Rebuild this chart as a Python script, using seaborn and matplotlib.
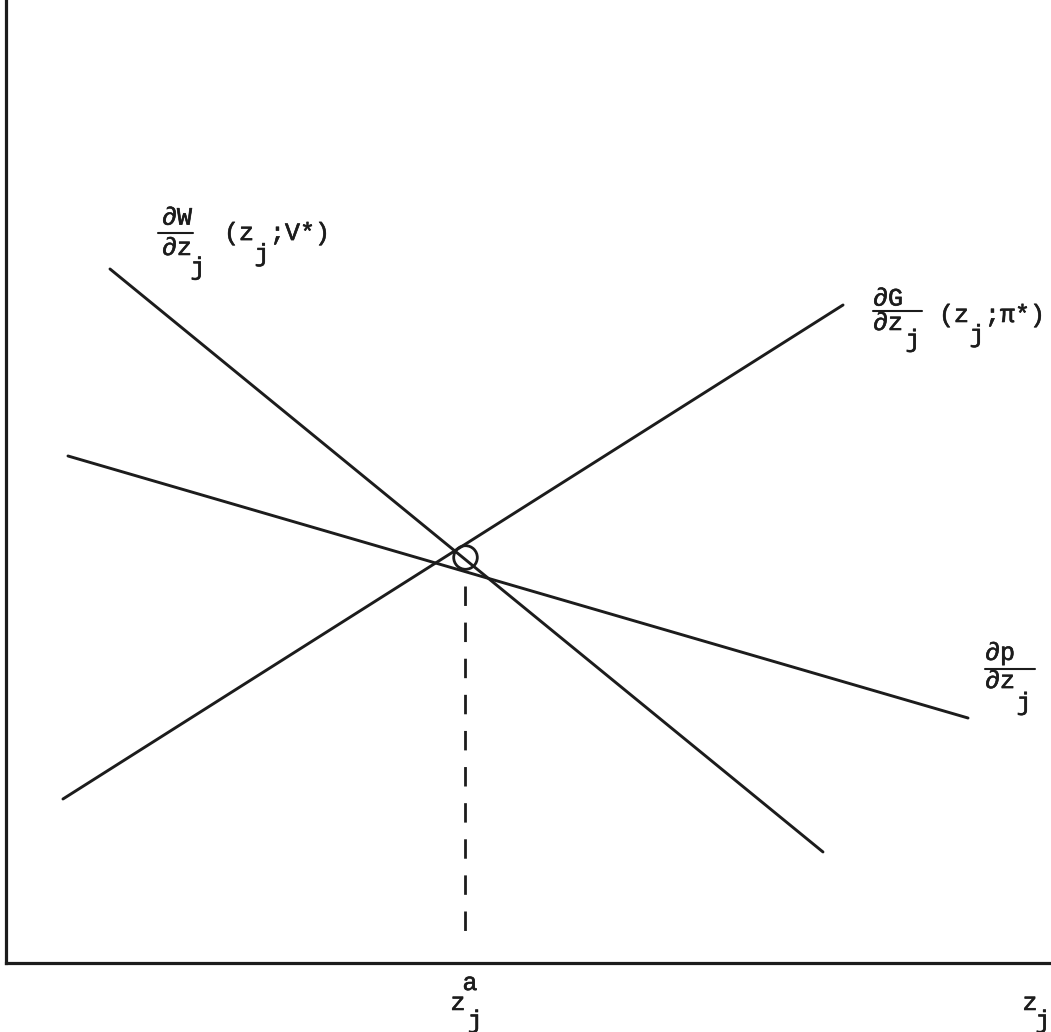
import matplotlib
matplotlib.use("Agg")
import matplotlib.pyplot as plt
import matplotlib.patheffects as pe
import seaborn as sns
import pandas as pd

# Marginal schedules (endpoints of each straight line, in diagram units)
w_x = [0.995, 7.818]
w_y = [7.207, 1.153]
g_x = [0.545, 8.010]
g_y = [1.703, 6.833]
p_x = [0.593, 9.206]
p_y = [5.265, 2.544]

# Equilibrium point z_j^a
eq_x = 4.392
eq_y = 4.216

sns.set_theme(style="white")
plt.rcParams["font.family"] = ["Liberation Mono", "DejaVu Sans Mono"]

INK = "#1c1c1c"
FS = 18

fig = plt.figure(figsize=(10.51, 10.32), dpi=100)
ax = fig.add_axes([6 / 1051, 69 / 1032, 1045 / 1051, 963 / 1032])
ax.set_xlim(0, 10)
ax.set_ylim(0, 10)

lines = pd.concat([
    pd.DataFrame({"z": w_x, "v": w_y, "curve": "W"}),
    pd.DataFrame({"z": g_x, "v": g_y, "curve": "G"}),
    pd.DataFrame({"z": p_x, "v": p_y, "curve": "p"}),
])
sns.lineplot(data=lines, x="z", y="v", units="curve", estimator=None,
             color=INK, lw=2.1, ax=ax, legend=False, sort=False)

# equilibrium marker and dashed drop line to the axis
ax.plot([eq_x], [eq_y], marker="o", ms=17, mfc="none", mec=INK, mew=2.0)
ax.plot([eq_x, eq_x], [eq_y - 0.3, 0.18], color=INK, lw=2.0,
        linestyle=(0, (7, 6)))

for s in ["top", "right"]:
    ax.spines[s].set_visible(False)
for s in ["left", "bottom"]:
    ax.spines[s].set_color(INK)
    ax.spines[s].set_linewidth(2.3)
ax.set_xticks([])
ax.set_yticks([])
ax.set_xlabel("")
ax.set_ylabel("")

# typewriter-like lettering: a thin stroke thickens the glyphs a little
ink_fx = [pe.withStroke(linewidth=0.45, foreground=INK)]
kw = dict(va="center", fontsize=FS, color=INK, clip_on=False,
          path_effects=ink_fx)


def frac(num, den, xc, y_num, y_bar, y_den, x0, x1, sub_x, sub_y):
    ax.text(xc, y_num, num, ha="center", **kw)
    ax.plot([x0, x1], [y_bar, y_bar], color=INK, lw=1.5)
    ax.text(xc, y_den, den, ha="center", **kw)
    ax.text(sub_x, sub_y, "j", ha="center", **kw)


# dW/dz_j (z_j; V*)
frac("∂W", "∂z", 1.636, 7.74, 7.580, 7.425, 1.455, 1.789, 1.837, 7.22)
ax.text(2.086, 7.580, "(z", ha="left", **kw)
ax.text(2.450, 7.36, "j", ha="center", **kw)
ax.text(2.526, 7.580, ";V*)", ha="left", **kw)

# dG/dz_j (z_j; pi*)
frac("∂G", "∂z", 8.440, 6.90, 6.771, 6.646, 8.297, 8.766, 8.679, 6.47)
ax.text(8.928, 6.729, "(z", ha="left", **kw)
ax.text(9.292, 6.52, "j", ha="center", **kw)
ax.text(9.368, 6.729, ";π*)", ha="left", **kw)

# dp/dz_j
frac("∂p", "∂z", 9.512, 3.22, 3.053, 2.928, 9.368, 9.847, 9.742, 2.70)

# axis labels
ax.text(4.325, -0.415, "z", ha="center", **kw)
ax.text(4.440, -0.208, "a", ha="center", **kw)
ax.text(4.490, -0.600, "j", ha="center", **kw)
ax.text(9.799, -0.415, "z", ha="center", **kw)
ax.text(9.923, -0.600, "j", ha="center", **kw)

fig.savefig("out.png", dpi=100, facecolor="white")
